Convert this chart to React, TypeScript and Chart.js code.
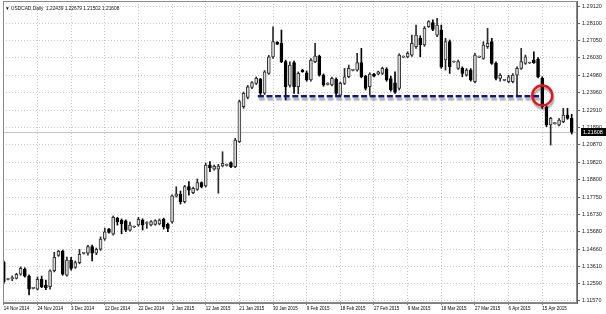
import React, { useEffect, useRef } from "react";
import { Chart, registerables } from "chart.js";

Chart.register(...registerables);

const symbolName = "USDCAD,Daily";

const opens = [
  1.1389, 1.1285, 1.129, 1.1292, 1.1317, 1.1347, 1.1305, 1.1232, 1.1228, 1.1286,
  1.1252, 1.1242, 1.1337, 1.1428, 1.1452, 1.1311, 1.1401, 1.1357, 1.1385, 1.144,
  1.1441, 1.148, 1.1441, 1.1465, 1.1526, 1.1585, 1.1555, 1.1649, 1.1637, 1.1634,
  1.1579, 1.1597, 1.1609, 1.1639, 1.1618, 1.1609, 1.1613, 1.1615, 1.1643, 1.1613,
  1.1628, 1.178, 1.1792, 1.1748, 1.1837, 1.1801, 1.1821, 1.1861, 1.1841, 1.1966,
  1.1942, 1.1942, 1.196, 1.1964, 1.198, 1.1956, 1.2105, 1.2313, 1.2369, 1.2428,
  1.2452, 1.2476, 1.2393, 1.2511, 1.261, 1.2697, 1.269, 1.2581, 1.244, 1.2575,
  1.2432, 1.2531, 1.2515, 1.2472, 1.2581, 1.2614, 1.2501, 1.2445, 1.2442, 1.2476,
  1.2382, 1.2452, 1.2491, 1.2529, 1.2531, 1.2575, 1.2495, 1.2432, 1.2507, 1.2507,
  1.2511, 1.2535, 1.248, 1.2455, 1.2422, 1.2608, 1.261, 1.262, 1.267, 1.272,
  1.268, 1.2789, 1.2813, 1.2739, 1.2769, 1.2591, 1.27, 1.2579, 1.2541, 1.2541,
  1.2501, 1.2531, 1.2462, 1.2608, 1.2601, 1.267, 1.27, 1.2571, 1.2482, 1.247,
  1.2462, 1.2462, 1.2501, 1.2541, 1.2571, 1.2573, 1.2591, 1.2595, 1.2482, 1.2313,
  1.2204, 1.2212, 1.2204, 1.2224, 1.2263, 1.22439,
];

const highs = [
  1.1395, 1.129, 1.1306, 1.1322, 1.136, 1.1355, 1.1312, 1.1238, 1.13, 1.1305,
  1.1282, 1.1343, 1.1447, 1.1458, 1.146, 1.1418, 1.1417, 1.1395, 1.1464, 1.1446,
  1.1488, 1.149, 1.1472, 1.1538, 1.1591, 1.159, 1.1663, 1.1655, 1.1645, 1.164,
  1.1627, 1.1603, 1.1655, 1.1646, 1.1629, 1.1636, 1.164, 1.1645, 1.165, 1.162,
  1.1788, 1.1837, 1.1811, 1.1845, 1.1867, 1.1835, 1.1883, 1.1866, 1.1978, 1.1986,
  1.1966, 1.197, 1.2045, 1.1972, 1.1985, 1.2125, 1.2353, 1.24, 1.244, 1.2462,
  1.249, 1.2482, 1.2528, 1.2618, 1.2789, 1.27, 1.2769, 1.259, 1.258, 1.2585,
  1.252, 1.2535, 1.2525, 1.26, 1.269, 1.262, 1.2508, 1.2456, 1.249, 1.2485,
  1.246, 1.2541, 1.2561, 1.2535, 1.263, 1.266, 1.25, 1.2515, 1.2512, 1.2525,
  1.2548, 1.2545, 1.2495, 1.252, 1.2628, 1.2615, 1.264, 1.2739, 1.2799, 1.2735,
  1.279, 1.2825, 1.283, 1.2839, 1.2799, 1.272, 1.271, 1.2585, 1.259, 1.255,
  1.254, 1.254, 1.263, 1.2614, 1.27, 1.2779, 1.272, 1.258, 1.251, 1.2476,
  1.25, 1.251, 1.255, 1.266, 1.262, 1.2578, 1.264, 1.2605, 1.2491, 1.232,
  1.225, 1.2218, 1.2242, 1.2303, 1.2303, 1.22679,
];

const lows = [
  1.1262, 1.1283, 1.1278, 1.1288, 1.131, 1.1298, 1.1193, 1.1229, 1.1222, 1.1236,
  1.1224, 1.1228, 1.133, 1.1422, 1.131, 1.1305, 1.1341, 1.1351, 1.1378, 1.1436,
  1.143, 1.1395, 1.1432, 1.1458, 1.1518, 1.156, 1.1549, 1.1609, 1.1557, 1.157,
  1.1572, 1.1594, 1.1602, 1.1579, 1.1589, 1.1603, 1.1608, 1.161, 1.1585, 1.1569,
  1.162, 1.1775, 1.1734, 1.174, 1.1787, 1.1795, 1.1815, 1.183, 1.1835, 1.1926,
  1.1936, 1.1798, 1.1955, 1.196, 1.195, 1.195, 1.21, 1.2303, 1.236, 1.242,
  1.2445, 1.2385, 1.2385, 1.2505, 1.26, 1.2682, 1.2575, 1.2353, 1.243, 1.2392,
  1.239, 1.2518, 1.2465, 1.2465, 1.2575, 1.2495, 1.2435, 1.2442, 1.2436, 1.2376,
  1.2376, 1.2445, 1.2485, 1.2526, 1.2525, 1.2485, 1.2412, 1.2382, 1.249, 1.2503,
  1.2505, 1.2465, 1.2405, 1.2392, 1.2412, 1.2605, 1.2605, 1.2612, 1.266, 1.261,
  1.2672, 1.2785, 1.2765, 1.273, 1.2541, 1.2531, 1.2511, 1.2576, 1.2535, 1.2491,
  1.2495, 1.2465, 1.2455, 1.2605, 1.2595, 1.266, 1.2565, 1.2472, 1.2465, 1.2467,
  1.2455, 1.2455, 1.2382, 1.2535, 1.2565, 1.257, 1.257, 1.2485, 1.2303, 1.2194,
  1.2085, 1.2209, 1.2198, 1.2218, 1.2238, 1.21502,
];

const closes = [
  1.127, 1.1288, 1.1296, 1.1316, 1.1351, 1.1305, 1.1228, 1.1235, 1.1286, 1.1242,
  1.1236, 1.1337, 1.1417, 1.1452, 1.1316, 1.1401, 1.1351, 1.1385, 1.1435, 1.1442,
  1.148, 1.1442, 1.1465, 1.1526, 1.1569, 1.1565, 1.1655, 1.1629, 1.1615, 1.1579,
  1.1609, 1.16, 1.1643, 1.1609, 1.1621, 1.1629, 1.1635, 1.1639, 1.1599, 1.1589,
  1.1782, 1.1795, 1.1748, 1.1837, 1.1817, 1.1827, 1.1861, 1.1837, 1.1966, 1.195,
  1.1958, 1.196, 1.1976, 1.1968, 1.1956, 1.2115, 1.2343, 1.2393, 1.2432, 1.2456,
  1.2482, 1.2393, 1.2521, 1.261, 1.27, 1.2685, 1.2581, 1.2432, 1.256, 1.2432,
  1.2511, 1.2521, 1.2472, 1.2591, 1.2614, 1.2501, 1.2442, 1.2452, 1.2482, 1.2392,
  1.2452, 1.2491, 1.2541, 1.2532, 1.2575, 1.2491, 1.2422, 1.2507, 1.2495, 1.2521,
  1.2541, 1.2472, 1.2415, 1.24, 1.262, 1.2611, 1.263, 1.269, 1.2739, 1.268,
  1.2779, 1.2819, 1.2773, 1.2799, 1.2551, 1.27, 1.2551, 1.2582, 1.2581, 1.2511,
  1.2531, 1.2472, 1.262, 1.2611, 1.268, 1.269, 1.2571, 1.2482, 1.2501, 1.2473,
  1.2491, 1.2501, 1.2541, 1.2581, 1.261, 1.2576, 1.2575, 1.2491, 1.2313, 1.2204,
  1.2244, 1.2215, 1.2234, 1.2263, 1.2244, 1.21608,
];

const xTickIndex = [0, 8, 16, 24, 32, 40, 48, 56, 64, 72, 80, 88, 96, 104, 112, 120, 128];
const xTickLabels = [
  "14 Nov 2014", "24 Nov 2014", "3 Dec 2014", "12 Dec 2014", "22 Dec 2014",
  "2 Jan 2015", "12 Jan 2015", "21 Jan 2015", "30 Jan 2015", "9 Feb 2015",
  "18 Feb 2015", "27 Feb 2015", "9 Mar 2015", "18 Mar 2015", "27 Mar 2015",
  "6 Apr 2015", "15 Apr 2015",
];

const yTickValues = [
  1.2912, 1.281, 1.2705, 1.2603, 1.2498, 1.2396, 1.2291, 1.2189, 1.2087,
  1.1982, 1.188, 1.1775, 1.1673, 1.1568, 1.1466, 1.1361, 1.1259, 1.1157,
];

// support line drawn on the chart, and the circled breakout bar
const supportLevel = [1.2375, 1.2375];
const supportBars = [60.4, 127.8];
const circleBar = [128];
const circleLevel = [1.238];

const X_MIN = -0.19;
const X_MAX = 136.26;
const Y_MIN = 1.1145;
const Y_MAX = 1.2942;

export default function App() {
  const ref = useRef<HTMLCanvasElement>(null);

  useEffect(() => {
    const canvas = ref.current;
    if (!canvas) return;
    const n = opens.length;
    const last = n - 1;
    const bull = opens.map((o, i) => closes[i] >= o);
    const bodyData = opens.map((o, i) => ({ x: i, y: [o, closes[i]] }));
    const wickData = lows.map((l, i) => ({ x: i, y: [l, highs[i]] }));
    const titleText =
      "\u25BC " + symbolName + "  " +
      [opens[last], highs[last], lows[last], closes[last]].map((v) => v.toFixed(5)).join(" ");

    const overlay = {
      id: "mt4overlay",
      beforeDatasetsDraw(chart: any) {
        const { ctx, chartArea, scales } = chart;
        const y = Math.round(scales.y.getPixelForValue(closes[last])) + 0.5;
        ctx.save();
        ctx.strokeStyle = "#c4c4c4";
        ctx.lineWidth = 1;
        ctx.beginPath();
        ctx.moveTo(chartArea.left, y);
        ctx.lineTo(chartArea.right, y);
        ctx.stroke();
        ctx.restore();
      },
      beforeDatasetDraw(chart: any, args: any) {
        const ds = chart.data.datasets[args.index];
        if (ds && ds.withShadow) {
          const ctx = chart.ctx;
          ctx.save();
          ctx.shadowColor = "rgba(0,0,0,0.35)";
          ctx.shadowOffsetX = 1;
          ctx.shadowOffsetY = 3;
          ctx.shadowBlur = 1.5;
        }
      },
      afterDatasetDraw(chart: any, args: any) {
        const ds = chart.data.datasets[args.index];
        if (ds && ds.withShadow) chart.ctx.restore();
      },
      afterDraw(chart: any) {
        const { ctx, chartArea, scales } = chart;
        ctx.save();
        ctx.strokeStyle = "#8a8a8a";
        ctx.lineWidth = 1;
        ctx.strokeRect(
          chartArea.left + 0.5,
          chartArea.top + 0.5,
          chartArea.right - chartArea.left - 1,
          chartArea.bottom - chartArea.top - 1
        );
        const y = scales.y.getPixelForValue(closes[last]);
        ctx.fillStyle = "#000";
        ctx.fillRect(chartArea.right + 4, Math.round(y) - 4, 25, 8);
        ctx.fillStyle = "#fff";
        ctx.font = '5.5px "Liberation Sans", sans-serif';
        ctx.textBaseline = "middle";
        ctx.textAlign = "left";
        ctx.fillText(closes[last].toFixed(5), chartArea.right + 6, Math.round(y) + 0.5);
        ctx.fillStyle = "#111";
        ctx.font = '4.8px "Liberation Sans", sans-serif';
        ctx.fillText(titleText, chartArea.left + 2, chartArea.top + 7.5);
        ctx.restore();
      },
    };

    const chart = new Chart(canvas, {
      type: "bar",
      data: {
        datasets: [
          {
            type: "line",
            data: circleBar.map((x, i) => ({ x, y: circleLevel[i] })),
            showLine: false,
            pointRadius: 10,
            pointHoverRadius: 10,
            pointBorderWidth: 2.4,
            pointBorderColor: "#e3141c",
            pointBackgroundColor: "rgba(0,0,0,0)",
            order: 0,
            withShadow: true,
          } as any,
          {
            type: "line",
            data: supportBars.map((x, i) => ({ x, y: supportLevel[i] })),
            borderColor: "#16167e",
            borderWidth: 2.6,
            borderDash: [6, 2.6],
            pointRadius: 0,
            order: 1,
            withShadow: true,
          } as any,
          {
            type: "bar",
            data: bodyData,
            backgroundColor: bull.map((b) => (b ? "#dadada" : "#000000")),
            borderColor: bull.map((b) => (b ? "#333333" : "#000000")),
            borderWidth: 1,
            borderSkipped: false,
            barThickness: 3,
            minBarLength: 1,
            grouped: false,
            order: 2,
          } as any,
          {
            type: "bar",
            data: wickData,
            backgroundColor: bull.map((b) => (b ? "#2a2a2a" : "#000000")),
            borderWidth: 0,
            barThickness: 1,
            grouped: false,
            order: 3,
          } as any,
        ],
      },
      options: {
        animation: false,
        responsive: false,
        maintainAspectRatio: false,
        devicePixelRatio: 1,
        events: [],
        layout: { autoPadding: false, padding: { left: 3, top: 1, right: 0, bottom: 0 } },
        plugins: {
          legend: { display: false },
          tooltip: { enabled: false },
          title: { display: false },
        },
        scales: {
          x: {
            type: "linear",
            position: "bottom",
            min: X_MIN,
            max: X_MAX,
            offset: false,
            grid: {
              color: "#c8c8c8",
              lineWidth: 1,
              offset: false,
              drawTicks: true,
              tickLength: 2,
              tickColor: "#808080",
            },
            border: { display: true, color: "#808080", dash: [1, 2] },
            afterBuildTicks: (s: any) => {
              s.ticks = xTickIndex.map((v) => ({ value: v }));
            },
            afterFit: (s: any) => {
              s.height = 11;
              s.paddingLeft = 0;
              s.paddingRight = 0;
            },
            ticks: {
              autoSkip: false,
              maxRotation: 0,
              minRotation: 0,
              align: "start",
              padding: 1,
              color: "#000000",
              font: { family: '"Liberation Sans Narrow", "Liberation Sans", sans-serif', size: 4.5 },
              callback: (v: any) => {
                const k = xTickIndex.indexOf(Number(v));
                return k >= 0 ? xTickLabels[k] : "";
              },
            },
          } as any,
          y: {
            type: "linear",
            position: "right",
            min: Y_MIN,
            max: Y_MAX,
            grid: {
              color: "#c8c8c8",
              lineWidth: 1,
              drawTicks: true,
              tickLength: 3,
              tickColor: "#606060",
            },
            border: { display: true, color: "#606060", dash: [1, 2] },
            afterBuildTicks: (s: any) => {
              s.ticks = yTickValues.map((v) => ({ value: v }));
            },
            afterFit: (s: any) => {
              s.width = 29;
              s.paddingTop = 0;
              s.paddingBottom = 0;
            },
            ticks: {
              padding: 2,
              color: "#1a1a1a",
              font: { family: '"Liberation Sans", sans-serif', size: 5.5 },
              callback: (v: any) => Number(v).toFixed(5),
            },
          } as any,
        },
      } as any,
      plugins: [overlay as any],
    });

    return () => chart.destroy();
  }, []);

  return (
    <div
      style={{
        position: "fixed",
        left: 0,
        top: 0,
        width: 606,
        height: 314,
        background: "#ffffff",
      }}
    >
      <canvas ref={ref} width={606} height={314} style={{ display: "block", width: 606, height: 314 }} />
    </div>
  );
}
